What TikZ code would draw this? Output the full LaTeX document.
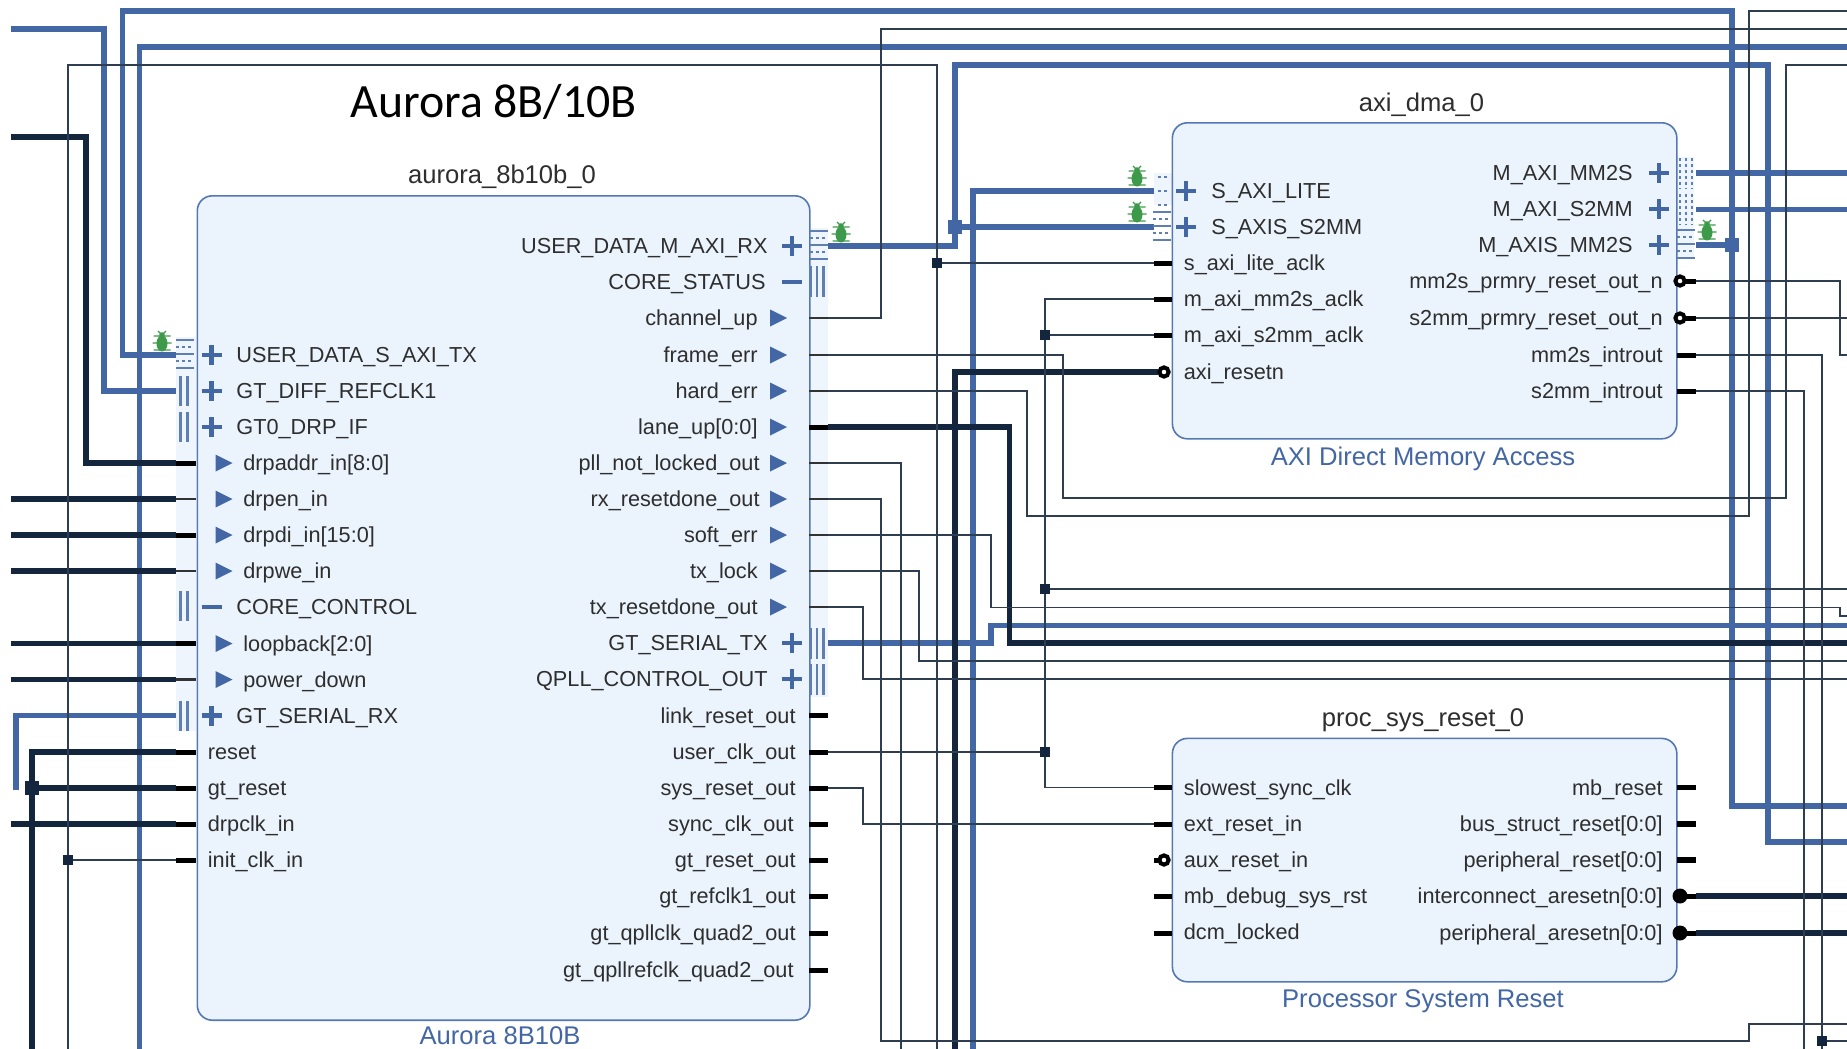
\documentclass[tikz,border=0pt]{standalone}
\usepackage{fontspec}
\setmainfont{Liberation Sans}
\newfontfamily\calib{Carlito}
\definecolor{wireblue}{HTML}{4367A5}
\definecolor{wiredark}{HTML}{14263D}
\definecolor{wirethin}{HTML}{2E3E50}
\definecolor{blockfill}{HTML}{EBF3FD}
\definecolor{blockline}{HTML}{5578B4}
\definecolor{bandfill}{HTML}{EEF5FD}
\definecolor{bugc}{HTML}{3D9A4A}
\definecolor{txt}{HTML}{2E2E2E}
\tikzset{
  wthin/.style={draw=wirethin,line width=0.9pt},
  wblue/.style={draw=wireblue,line width=2.85pt},
  wdark/.style={draw=wiredark,line width=2.6pt},
  stubfat/.style={draw=black,line width=2.5pt},
  stubwide/.style={draw=black,line width=3.2pt},
  stubmid/.style={draw=black!80,line width=1.4pt},
  blockbox/.style={draw=blockline,fill=blockfill,line width=0.8pt,rounded corners=7.5pt},
  lbl/.style={inner sep=0pt,text=txt,font=\fontsize{10.85}{12}\selectfont},
  ttl/.style={inner sep=0pt,text=txt,font=\fontsize{12.8}{14}\selectfont},
  sub/.style={inner sep=0pt,text=wireblue,font=\fontsize{12.8}{14}\selectfont},
  junc/.style={fill=wiredark,inner sep=0pt,minimum size=5pt},
  juncbig/.style={fill=wireblue,inner sep=0pt,minimum size=7pt},
  juncdark/.style={fill=wiredark,inner sep=0pt,minimum size=7pt},
  pm/.style={draw=wireblue,line width=2.1pt},
  band/.style={fill=bandfill,draw=none},
  icon/.style={draw=wireblue!85!white,line width=1.3pt},
  icondot/.style={draw=wireblue!85!white,line width=1.2pt,dash pattern=on 1.5pt off 1.5pt},
  tri/.style={fill=wireblue,draw=none},
}
% labels
\newcommand\lbW[3]{\node[lbl,anchor=mid west] at (#1,#2+2.5) {#3};}
\newcommand\lbE[3]{\node[lbl,anchor=mid east] at (#1,#2+2.5) {#3};}
% symbols
\newcommand\plusm[2]{\draw[pm] (#1-10,#2) -- (#1+10,#2) (#1,#2-10) -- (#1,#2+10);}
\newcommand\minusm[2]{\draw[pm] (#1-10,#2) -- (#1+10,#2);}
\newcommand\trimk[2]{\fill[tri] (#1,#2-8.5) -- (#1+17,#2) -- (#1,#2+8.5) -- cycle;}
% icons
\newcommand\busH[2]{\draw[icon] (#1,#2-15) -- +(18,0) (#1,#2-1) -- +(18,0) (#1,#2+13) -- +(18,0);
  \draw[icondot] (#1,#2-8) -- +(18,0) (#1,#2+6) -- +(18,0);}
\newcommand\busVV[2]{\draw[icon] (#1,#2-15) -- +(0,30) (#1+7,#2-15) -- +(0,30);}
\newcommand\busVVV[2]{\draw[icon] (#1,#2-15) -- +(0,31) (#1+6.5,#2-15) -- +(0,31) (#1+13,#2-15) -- +(0,31);}
\newcommand\busDotH[2]{\draw[icondot,line width=1.4pt] (#1,#2-14) -- +(12,0) (#1,#2) -- +(12,0) (#1,#2+14) -- +(12,0);}
\newcommand\busDotV[2]{\draw[icondot,line width=1.1pt] (#1,#2-15) -- +(0,31) (#1+6,#2-15) -- +(0,31) (#1+12,#2-15) -- +(0,31);}
\newcommand\bugm[2]{\draw[bugc,line width=0.65pt]
   (#1-8.5,#2-6) -- (#1+8.5,#2-6) (#1-9.5,#2+1) -- (#1+9.5,#2+1) (#1-8.5,#2+8) -- (#1+8.5,#2+8)
   (#1-4,#2-11) -- (#1-1,#2-8) (#1+4,#2-11) -- (#1+1,#2-8);
   \fill[bugc] (#1,#2+1.5) ellipse (5.5 and 8);\fill[bugc] (#1,#2-7) circle (2.8);}
\newcommand\bubble[2]{\draw[black,line width=2pt,fill=white] (#1,#2) circle (4.6);}
\begin{document}
\begin{tikzpicture}[x=0.5pt,y=-0.5pt]
\useasboundingbox (0,0) rectangle (1847,1049);
\fill[white] (0,0) rectangle (1847,1049);
% pale bands
\fill[band] (176,337) rectangle (196,731);
\fill[band] (809,228) rectangle (828,697);
\fill[band] (1154,173) rectangle (1172,205);
\fill[band] (1677,157) rectangle (1694,258);
% blocks
\node[blockbox,minimum width=306.25pt,minimum height=412.2pt,anchor=north west] (A) at (196.5,195) {};
\node[blockbox,minimum width=252.2pt,minimum height=158pt,anchor=north west] (B) at (1171.6,122) {};
\node[blockbox,minimum width=252.2pt,minimum height=121.7pt,anchor=north west] (C) at (1171.6,737.6) {};
\node[ttl] (Atitle) at (502,176.5) {aurora\_8b10b\_0};
\node[sub] (Asub) at (500,1036) {Aurora 8B10B};
\node[ttl] (Btitle) at (1421.5,105) {axi\_dma\_0};
\node[sub] (Bsub) at (1423,458.5) {AXI Direct Memory Access};
\node[ttl] (Ctitle) at (1423,720) {proc\_sys\_reset\_0};
\node[sub] (Csub) at (1423,1001.5) {Processor System Reset};
\node[inner sep=0pt,text=black,font=\calib\fontsize{23.9}{26}\selectfont,anchor=mid west] (head) at (350,112.5) {Aurora 8B/10B};
% free ends
\coordinate (Lb1) at (11,29);
\coordinate (Ld1) at (11,137);
\coordinate (Ld2) at (11,499);
\coordinate (Ld3) at (11,535);
\coordinate (Ld4) at (11,571);
\coordinate (Ld5) at (11,643.5);
\coordinate (Ld6) at (11,679.5);
\coordinate (Ld7) at (11,824);
\coordinate (Lrx) at (16,790);
\coordinate (Tb) at (122.6,10.7);
\coordinate (Dc) at (139.6,1049);
\coordinate (Dd) at (68,1049);
\coordinate (De) at (32,1049);
\coordinate (Df) at (937,1049);
\coordinate (Dg) at (973,1049);
\coordinate (Dh) at (955,1049);
\coordinate (Di) at (901,1049);
\coordinate (Dj) at (1804,1049);
\coordinate (Dk) at (1822,1049);
\foreach \n/\y in {R11/11,R29/29,R47/47,R65/65,R173/173,R209/209.5,R318/318,R355/355,R589/589,R616/616,R625/625.5,R643/643,R661/661,R679/679,R806/806,R842/842,R896/896,R933/933,R1024/1024,R1041/1041}{\coordinate (\n) at (1847,\y);}
% ports, outer ends
\coordinate (aTX) at (176,355);
\coordinate (aRef) at (176,391);
\coordinate (aAddr) at (176,463);
\coordinate (aEn) at (176,499);
\coordinate (aDi) at (176,535);
\coordinate (aWe) at (176,571);
\coordinate (aLoop) at (176,643.5);
\coordinate (aPwr) at (176,679.5);
\coordinate (aRx) at (176,715.5);
\coordinate (aRst) at (176,752);
\coordinate (aGtR) at (176,788);
\coordinate (aDrp) at (176,824);
\coordinate (aInit) at (176,860);
\coordinate (oRx) at (828,246);
\coordinate (oChan) at (828,318);
\coordinate (oFrame) at (828,355);
\coordinate (oHard) at (828,391);
\coordinate (oLane) at (828,427);
\coordinate (oPll) at (828,463);
\coordinate (oRxd) at (828,499);
\coordinate (oSoft) at (828,535);
\coordinate (oLock) at (828,571);
\coordinate (oTxd) at (828,607);
\coordinate (oSerTx) at (828,643);
\coordinate (oUsr) at (828,752);
\coordinate (oSys) at (828,788);
\coordinate (bLite) at (1154,191);
\coordinate (bS2) at (1154,227);
\coordinate (bAclk) at (1154,263);
\coordinate (bMm) at (1154,299);
\coordinate (bS2c) at (1154,335);
\coordinate (bRes) at (1158,372);
\coordinate (bO1) at (1696,173);
\coordinate (bO2) at (1696,209.5);
\coordinate (bO3) at (1696,245);
\coordinate (bO4) at (1696,281);
\coordinate (bO5) at (1696,318);
\coordinate (bO6) at (1696,355);
\coordinate (bO7) at (1696,391);
\coordinate (cSlow) at (1154,787.5);
\coordinate (cExt) at (1154,824);
\coordinate (cO1) at (1696,896);
\coordinate (cO2) at (1696,933);
% blue wires
\draw[wblue] (Lb1) -| (104,391) -- (aRef);
\draw[wblue] (aTX) -| (Tb) -| (1732,806) -- (R806);
\draw[wblue] (Dc) |- (R47);
\draw[wblue] (bLite) -| (Dg);
\draw[wblue] (oRx) -| (955,65) -| (1768,842) -- (R842);
\node[juncbig] (j1) at (955,227) {};
\draw[wblue] (j1) -- (bS2);
\draw[wblue] (oSerTx) -| (991,625.5) -- (R625);
\draw[wblue] (aRx) -| (Lrx);
\draw[wblue] (bO1) -- (R173);
\draw[wblue] (bO2) -- (R209);
\node[juncbig] (j2) at (1732,245) {};
\draw[wblue] (bO3) -- (j2);
% dark wires
\draw[wdark] (Ld1) -| (86,463) -- (aAddr);
\draw[wdark] (Ld2) -- (aEn);
\draw[wdark] (Ld3) -- (aDi);
\draw[wdark] (Ld4) -- (aWe);
\draw[wdark] (Ld5) -- (aLoop);
\draw[wdark] (Ld6) -- (aPwr);
\draw[wdark] (Ld7) -- (aDrp);
\draw[wdark] (aRst) -| (De);
\node[juncdark] (j3) at (32,788) {};
\draw[wdark] (j3) -- (aGtR);
\draw[wdark] (oLane) -| (1009.5,643) -- (R643);
\draw[wdark] (bRes) -| (Dh);
\draw[wdark] (cO1) -- (R896);
\draw[wdark] (cO2) -- (R933);
% thin wires
\draw[wthin] (Dd) -- (68,65) -- (937,65) -- (Df);
\node[junc] (j4) at (68,860) {};
\draw[wthin] (j4) -- (aInit);
\node[junc] (j5) at (937,263) {};
\draw[wthin] (j5) -- (bAclk);
\draw[wthin] (oChan) -| (881,29) -- (R29);
\draw[wthin] (bMm) -| (1045,787.5) -- (cSlow);
\node[junc] (j6) at (1045,335) {};
\draw[wthin] (j6) -- (bS2c);
\node[junc] (j7) at (1045,589) {};
\draw[wthin] (j7) -- (R589);
\node[junc] (j8) at (1045,752) {};
\draw[wthin] (oUsr) -- (j8);
\draw[wthin] (oFrame) -| (1063,498) -| (1786,65) -- (R65);
\draw[wthin] (oHard) -| (1027,516) -| (1749,11) -- (R11);
\draw[wthin] (oPll) -| (Di);
\draw[wthin] (oRxd) -| (881,1041) -| (1749,1024) -- (R1024);
\draw[wthin] (oSoft) -| (991,607.5) -| (1840,616) -- (R616);
\draw[wthin] (oLock) -| (919,661) -- (R661);
\draw[wthin] (oTxd) -| (863,679) -- (R679);
\draw[wthin] (oSys) -| (863,824) -- (cExt);
\draw[wthin] (bO4) -| (1840,355) -- (R355);
\draw[wthin] (bO5) -- (R318);
\draw[wthin] (bO6) -| (Dk);
\draw[wthin] (bO7) -| (Dj);
\node[junc] (j9) at (1822,1041) {};
\draw[wthin] (j9) -- (R1041);
% stubs
\foreach \y in {463,535,643.5,752,788,824,860}{\draw[stubfat] (176,\y) -- (196,\y);}
\foreach \y in {499,571,679.5}{\draw[stubmid] (176,\y) -- (196,\y);}
\foreach \y in {318,355,391,463,499,535,571,607}{\draw[stubmid] (809,\y) -- (828,\y);}
\foreach \y in {427,715.5,752,788,824,860,896,933,970}{\draw[stubfat] (809,\y) -- (828,\y);}
\foreach \y in {263,299,335}{\draw[stubfat] (1154,\y) -- (1172,\y);}
\foreach \y in {787.5,824,896,933}{\draw[stubfat] (1154,\y) -- (1172,\y);}
\foreach \y in {355,391}{\draw[stubfat] (1677,\y) -- (1696,\y);}
\draw[stubfat] (1677,787.5) -- (1696,787.5);
\foreach \y in {824,860}{\draw[stubwide] (1677,\y) -- (1696,\y);}
% bubbles
\draw[stubfat] (1154,860) -- (1160,860);
\bubble{1164}{372}\bubble{1164}{860}
\foreach \y in {281,318,896,933}{\draw[stubfat] (1684,\y) -- (1696,\y);}
\bubble{1680}{281}\bubble{1680}{318}
\fill[black] (1680,896) circle (7.5);\fill[black] (1680,933) circle (7.5);
% icons
\busH{176}{355}
\busVV{180.5}{391}\busVV{180.5}{427}\busVV{180.5}{606}\busVV{180.5}{715.5}
\busH{810}{246}
\busVVV{810.5}{281}\busVVV{810.5}{643}\busVVV{810.5}{679}
\busDotH{1158}{191}\busH{1153}{227}
\busDotV{1680}{173}\busDotV{1680}{209}\busH{1677}{245}
\bugm{162}{342}\bugm{841}{233}\bugm{1137}{177}\bugm{1137}{213}\bugm{1707}{231}
% port symbols, block A left
\plusm{211.5}{355}\plusm{211.5}{391}\plusm{211.5}{427}\minusm{211.5}{607}\plusm{211.5}{715.5}
\foreach \y in {463,499,535,571,643.5,679.5}{\trimk{215.5}{\y}}
\lbW{236}{355}{USER\_DATA\_S\_AXI\_TX}
\lbW{236}{391}{GT\_DIFF\_REFCLK1}
\lbW{236}{427}{GT0\_DRP\_IF}
\lbW{243}{463}{drpaddr\_in[8:0]}
\lbW{243}{499}{drpen\_in}
\lbW{243}{535}{drpdi\_in[15:0]}
\lbW{243}{571}{drpwe\_in}
\lbW{236}{607}{CORE\_CONTROL}
\lbW{243}{643.5}{loopback[2:0]}
\lbW{243}{679.5}{power\_down}
\lbW{236}{715.5}{GT\_SERIAL\_RX}
\lbW{207.5}{752}{reset}
\lbW{207.5}{788}{gt\_reset}
\lbW{207.5}{824}{drpclk\_in}
\lbW{207.5}{860}{init\_clk\_in}
% block A right
\plusm{792}{246}\minusm{792}{282}\plusm{792}{643}\plusm{792}{679}
\foreach \y in {318,355,391,427,463,499,535,571,607}{\trimk{770}{\y}}
\lbE{768}{246}{USER\_DATA\_M\_AXI\_RX}
\lbE{766}{282}{CORE\_STATUS}
\lbE{758}{318}{channel\_up}
\lbE{758}{355}{frame\_err}
\lbE{758}{391}{hard\_err}
\lbE{758}{427}{lane\_up[0:0]}
\lbE{760}{463}{pll\_not\_locked\_out}
\lbE{760}{499}{rx\_resetdone\_out}
\lbE{758}{535}{soft\_err}
\lbE{758}{571}{tx\_lock}
\lbE{758}{607}{tx\_resetdone\_out}
\lbE{768}{643}{GT\_SERIAL\_TX}
\lbE{768}{679}{QPLL\_CONTROL\_OUT}
\lbE{796}{715.5}{link\_reset\_out}
\lbE{796}{752}{user\_clk\_out}
\lbE{796}{788}{sys\_reset\_out}
\lbE{794}{824}{sync\_clk\_out}
\lbE{796}{860}{gt\_reset\_out}
\lbE{796}{896}{gt\_refclk1\_out}
\lbE{796}{933}{gt\_qpllclk\_quad2\_out}
\lbE{794}{970}{gt\_qpllrefclk\_quad2\_out}
% block B
\plusm{1186}{191}\plusm{1186}{227}
\lbW{1211}{191}{S\_AXI\_LITE}
\lbW{1211}{227}{S\_AXIS\_S2MM}
\lbW{1183.5}{263}{s\_axi\_lite\_aclk}
\lbW{1183.5}{299}{m\_axi\_mm2s\_aclk}
\lbW{1183.5}{335}{m\_axi\_s2mm\_aclk}
\lbW{1183.5}{372}{axi\_resetn}
\plusm{1659}{173}\plusm{1659}{209}\plusm{1659}{245}
\lbE{1633}{173}{M\_AXI\_MM2S}
\lbE{1633}{209}{M\_AXI\_S2MM}
\lbE{1633}{245}{M\_AXIS\_MM2S}
\lbE{1663}{281}{mm2s\_prmry\_reset\_out\_n}
\lbE{1663}{318}{s2mm\_prmry\_reset\_out\_n}
\lbE{1663}{355}{mm2s\_introut}
\lbE{1663}{391}{s2mm\_introut}
% block C
\lbW{1183.5}{787.5}{slowest\_sync\_clk}
\lbW{1183.5}{824}{ext\_reset\_in}
\lbW{1183.5}{860}{aux\_reset\_in}
\lbW{1183.5}{896}{mb\_debug\_sys\_rst}
\lbW{1183.5}{932}{dcm\_locked}
\lbE{1663}{787.5}{mb\_reset}
\lbE{1663}{824}{bus\_struct\_reset[0:0]}
\lbE{1663}{860}{peripheral\_reset[0:0]}
\lbE{1663}{896}{interconnect\_aresetn[0:0]}
\lbE{1663}{933}{peripheral\_aresetn[0:0]}
\end{tikzpicture}
\end{document}
